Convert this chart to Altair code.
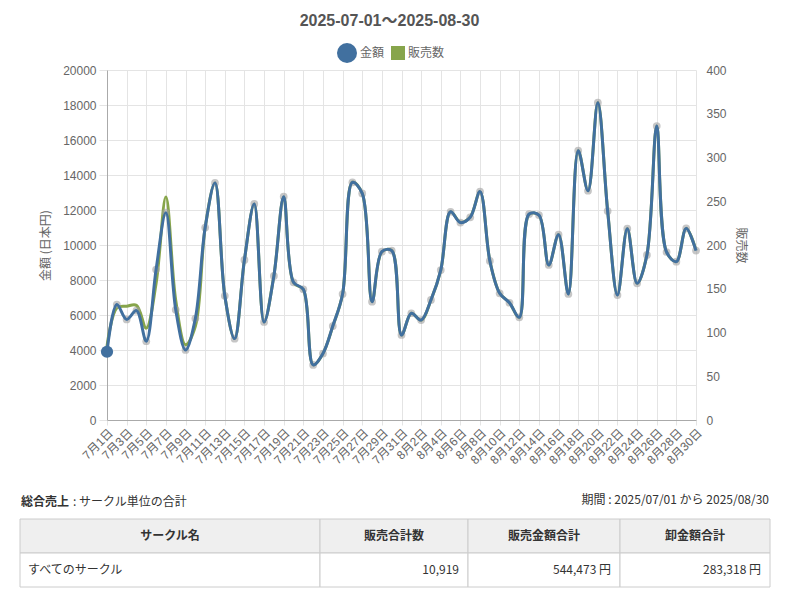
import altair as alt
import pandas as pd

# ---------------- data ----------------
days = [f"7月{d}日" for d in range(1, 32)] + [f"8月{d}日" for d in range(1, 31)]
amount = [3900, 6600, 5750, 6250, 4500, 8600, 11850, 6300, 4000, 5800,
          11000, 13550, 7100, 4650, 9150, 12350, 5600, 8230, 12760, 7870,
          7470, 3150, 3800, 5370, 7200, 13580, 12950, 6760, 9620, 9680,
          4860,
          6100, 5710, 6860, 8570, 11900, 11280, 11580, 13050, 9090, 7240,
          6700, 5870, 11770, 11710, 8860, 10590, 7200, 15390, 13100, 18130,
          11940, 7140, 10930, 7810, 9430, 16800, 9600, 9050, 10950, 9680]
count = [84, 128, 130, 131, 105, 156, 255, 137, 86, 107,
         220, 271, 142, 93, 183, 247, 112, 165, 255, 157,
         149, 63, 76, 107, 144, 272, 259, 135, 192, 194,
         97,
         122, 114, 137, 171, 238, 226, 232, 261, 182, 145,
         134, 117, 235, 234, 177, 212, 144, 308, 262, 363,
         239, 143, 219, 156, 189, 336, 192, 181, 219, 194]
series_names = ["金額", "販売数"]
series_colors = ["#41709f", "#87a54b"]
title_text = "2025-07-01～2025-08-30"

heading_bold = "総合売上"
heading_rest = ": サークル単位の合計"
period_text = "期間 : 2025/07/01 から 2025/08/30"
table_header = ["サークル名", "販売合計数", "販売金額合計", "卸金額合計"]
table_row = ["すべてのサークル", "10,919", "544,473 円", "283,318 円"]

# ---------------- style / layout ----------------
FONT = "Liberation Sans, Noto Sans CJK JP, sans-serif"
JFONT = "Noto Sans CJK JP, sans-serif"
GRID = "#e4e4e4"
TXT = "#666666"
PLOT_W, PLOT_H = 589, 350

df = pd.DataFrame({"day": days, "金額": amount, "販売数": count})
df["first"] = [i == 0 for i in range(len(days))]

x_enc = alt.X("day:O", sort=days,
              scale=alt.Scale(type="point", padding=0),
              axis=alt.Axis(values=days[::2], labelAngle=-45, title=None,
                            grid=True, gridColor=GRID, tickColor=GRID,
                            tickSize=5, labelPadding=2,
                            domainColor="#aaaaaa"))

y_left = alt.Y("金額:Q",
               scale=alt.Scale(domain=[0, 20000], nice=False),
               axis=alt.Axis(orient="left", values=list(range(0, 20001, 2000)),
                             format="d", title="金額 (日本円)",
                             grid=True, gridColor=GRID, tickColor=GRID,
                             tickSize=8, labelPadding=3, titlePadding=10,
                             domainColor="#aaaaaa"))

y_right = alt.Y("販売数:Q",
                scale=alt.Scale(domain=[0, 400], nice=False),
                axis=alt.Axis(orient="right", values=list(range(0, 401, 50)),
                              title="販売数", grid=False, ticks=False,
                              labelPadding=10, titlePadding=7,
                              domain=False))

base = alt.Chart(df)

green_line = base.mark_line(interpolate="catmull-rom", strokeWidth=3,
                            color=series_colors[1]).encode(x=x_enc, y=y_right)

halo = base.mark_circle(size=60, color="#a0a0a0", opacity=0.6).encode(
    x=x_enc, y=y_left)
blue_line = base.mark_line(interpolate="catmull-rom", strokeWidth=3,
                           color=series_colors[0]).encode(x=x_enc, y=y_left)
highlight = base.mark_circle(size=150, color=series_colors[0], opacity=1).encode(
    x=x_enc, y=y_left).transform_filter("datum.first")

blue_group = alt.layer(halo, blue_line, highlight)

# legend only: no rows are drawn, the explicit scale domains build the legend
legend_df = pd.DataFrame({"key": series_names})
legend_layer = alt.Chart(legend_df).mark_point(filled=True, opacity=1).encode(
    color=alt.Color("key:N", scale=alt.Scale(domain=series_names, range=series_colors),
                    legend=alt.Legend(orient="none", legendX=230, legendY=-27,
                                      direction="horizontal", title=None,
                                      labelFontSize=12,
                                      labelColor=TXT, labelFont=JFONT,
                                      columnPadding=6, labelOffset=3,
                                      symbolStrokeWidth=0)),
    shape=alt.Shape("key:N", scale=alt.Scale(domain=series_names, range=["circle", "square"])),
    size=alt.Size("key:N", scale=alt.Scale(domain=series_names, range=[400, 196])),
).transform_filter("false")

main = alt.layer(green_line, blue_group, legend_layer).resolve_scale(
    y="independent").properties(
    width=PLOT_W, height=PLOT_H,
    title=alt.TitleParams(title_text, fontSize=16, fontWeight="bold",
                          color="#555555", font=FONT, anchor="middle",
                          dx=-12, offset=35))

# ---------------- table ----------------
col_edges = [19, 319, 467, 619, 769]
row_edges = [519, 553, 587]
T_TOP, T_BOT = 480, 587
TFS = 12

tx = lambda f: alt.X(f, scale=alt.Scale(domain=[106, 695], nice=False, zero=False), axis=None)
ty = lambda f: alt.Y(f, scale=alt.Scale(domain=[T_TOP, T_BOT], reverse=True, nice=False, zero=False), axis=None)

cells = []
for r in range(2):
    for c in range(4):
        cells.append({"x": col_edges[c], "x2": col_edges[c + 1],
                      "y": row_edges[r], "y2": row_edges[r + 1],
                      "fill": "#efefef" if r == 0 else "#ffffff"})
cells_df = pd.DataFrame(cells)
rects = alt.Chart(cells_df).mark_rect(stroke="#cccccc", strokeWidth=1).encode(
    x=tx("x:Q"), x2="x2", y=ty("y:Q"), y2="y2",
    fill=alt.Fill("fill:N", scale=None))

hdr_df = pd.DataFrame({"t": table_header,
                       "x": [(col_edges[i] + col_edges[i + 1]) / 2 for i in range(4)],
                       "y": [(row_edges[0] + row_edges[1]) / 2] * 4})
hdr = alt.Chart(hdr_df).mark_text(font=JFONT, fontSize=TFS, fontWeight="bold",
                                  color="#333333", align="center", baseline="middle").encode(
    x=tx("x:Q"), y=ty("y:Q"), text="t:N")

ymid = (row_edges[1] + row_edges[2]) / 2
body_left_df = pd.DataFrame({"t": table_row[:1], "x": [col_edges[0] + 8], "y": [ymid]})
body_left = alt.Chart(body_left_df).mark_text(font=JFONT, fontSize=TFS, color="#333333",
                                              align="left", baseline="middle").encode(
    x=tx("x:Q"), y=ty("y:Q"), text="t:N")
body_right_df = pd.DataFrame({"t": table_row[1:],
                              "x": [col_edges[i + 1] - 9 for i in range(1, 4)],
                              "y": [ymid] * 3})
body_right = alt.Chart(body_right_df).mark_text(font=JFONT, fontSize=TFS, color="#333333",
                                                align="right", baseline="middle").encode(
    x=tx("x:Q"), y=ty("y:Q"), text="t:N")

head_b_df = pd.DataFrame({"t": [heading_bold], "x": [20], "y": [502]})
head_b = alt.Chart(head_b_df).mark_text(font=JFONT, fontSize=TFS, fontWeight="bold",
                                        color="#333333", align="left", baseline="middle").encode(
    x=tx("x:Q"), y=ty("y:Q"), text="t:N")
head_r_df = pd.DataFrame({"t": [heading_rest], "x": [72], "y": [502]})
head_r = alt.Chart(head_r_df).mark_text(font=JFONT, fontSize=TFS, color="#333333",
                                        align="left", baseline="middle").encode(
    x=tx("x:Q"), y=ty("y:Q"), text="t:N")
period_df = pd.DataFrame({"t": [period_text], "x": [768], "y": [500]})
period = alt.Chart(period_df).mark_text(font=JFONT, fontSize=TFS, color="#333333",
                                        align="right", baseline="middle").encode(
    x=tx("x:Q"), y=ty("y:Q"), text="t:N")

table = alt.layer(rects, hdr, body_left, body_right, head_b, head_r, period).properties(
    width=PLOT_W, height=T_BOT - T_TOP)

chart = alt.vconcat(main, table, spacing=60, bounds="flush").properties(
    padding={"left": 11, "top": 5, "right": 0, "bottom": 0}
).configure_view(stroke=None).configure_axis(
    labelFont=FONT, labelFontSize=12, labelColor=TXT,
    titleFont=JFONT, titleFontSize=12, titleColor=TXT, titleFontWeight="normal"
)

chart.save("out.html", embed_options={"renderer": "svg", "actions": False})
